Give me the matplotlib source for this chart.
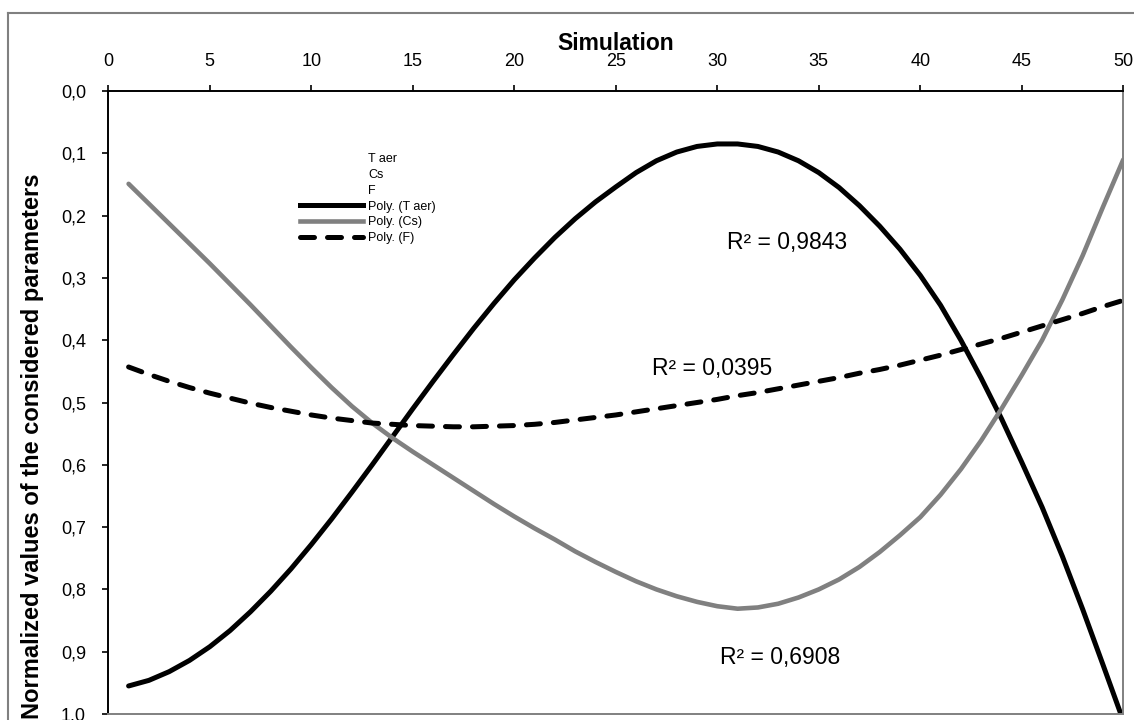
import matplotlib
matplotlib.use('Agg')
import matplotlib.pyplot as plt
from matplotlib.lines import Line2D

plt.rcParams['font.family'] = ['Liberation Sans', 'DejaVu Sans']

sim = list(range(1, 51))

# polynomial trend of T aer
poly_taer = [0.955, 0.946, 0.932, 0.914, 0.892, 0.866, 0.836, 0.803, 0.767, 0.728,
             0.687, 0.644, 0.600, 0.555, 0.510, 0.466, 0.423, 0.381, 0.341, 0.303,
             0.268, 0.235, 0.205, 0.178, 0.154, 0.131, 0.112, 0.098, 0.089, 0.085,
             0.085, 0.089, 0.098, 0.112, 0.131, 0.155, 0.184, 0.217, 0.254, 0.296,
             0.344, 0.400, 0.461, 0.526, 0.596, 0.668, 0.747, 0.832, 0.921, 1.011]
# polynomial trend of Cs
poly_cs = [0.149, 0.181, 0.213, 0.245, 0.277, 0.310, 0.343, 0.377, 0.411, 0.444,
           0.476, 0.506, 0.533, 0.557, 0.579, 0.600, 0.621, 0.642, 0.663, 0.683,
           0.702, 0.720, 0.739, 0.756, 0.772, 0.787, 0.800, 0.811, 0.820, 0.827,
           0.831, 0.829, 0.823, 0.813, 0.800, 0.784, 0.764, 0.740, 0.713, 0.684,
           0.648, 0.607, 0.561, 0.510, 0.456, 0.400, 0.335, 0.264, 0.186, 0.110]
# polynomial trend of F
poly_f = [0.443, 0.455, 0.466, 0.476, 0.485, 0.493, 0.501, 0.508, 0.514, 0.520,
          0.525, 0.529, 0.533, 0.535, 0.537, 0.538, 0.539, 0.539, 0.538, 0.537,
          0.535, 0.532, 0.528, 0.524, 0.520, 0.515, 0.510, 0.505, 0.500, 0.495,
          0.489, 0.484, 0.478, 0.472, 0.466, 0.460, 0.453, 0.447, 0.440, 0.432,
          0.424, 0.415, 0.406, 0.397, 0.387, 0.377, 0.367, 0.357, 0.346, 0.336]

r2_labels = ['R² = 0,9843', 'R² = 0,6908', 'R² = 0,0395']

xticks = list(range(0, 51, 5))
yticks = [i / 10 for i in range(11)]

W, H = 1134, 720
fig = plt.figure(figsize=(W / 100, H / 100), dpi=100)
ax = fig.add_axes([108.3 / W, 1 - 714 / H, 1015 / W, 623 / H])

ax.plot(sim, poly_taer, color='black', lw=3.6, solid_capstyle='round', solid_joinstyle='round')
ax.plot(sim, poly_cs, color='#808080', lw=3.3, solid_capstyle='round', solid_joinstyle='round')
ax.plot(sim, poly_f, color='black', lw=3.6, dashes=(2.8, 2.6), dash_capstyle='round')

ax.set_xlim(0, 50)
ax.set_ylim(1.0, 0.0)
ax.xaxis.tick_top()
ax.xaxis.set_label_position('top')
ax.set_xticks(xticks)
ax.set_yticks(yticks)
ax.set_yticklabels([('%.1f' % v).replace('.', ',') for v in yticks])
ax.tick_params(axis='x', length=4, width=1.2, pad=11.4, labelsize=13)
ax.tick_params(axis='y', length=4, width=1.2, pad=12, labelsize=13)
ax.set_xlabel('Simulation', fontsize=16.5, fontweight='bold', labelpad=2.2)

for s in ['top', 'left']:
    ax.spines[s].set_color('black')
    ax.spines[s].set_linewidth(1.4)
for s in ['right', 'bottom']:
    ax.spines[s].set_color('#808080')
    ax.spines[s].set_linewidth(1.4)

fig.text(33 / W, 1 - 446 / H, 'Normalized values of the considered parameters',
         rotation=90, ha='center', va='center', fontsize=17, fontweight='bold')

ax.text(30.48, 0.243, r2_labels[0], fontsize=16.5, va='center')
ax.text(30.13, 0.909, r2_labels[1], fontsize=16.5, va='center')
ax.text(26.78, 0.445, r2_labels[2], fontsize=16.5, va='center')

handles = [Line2D([], [], linestyle='none'),
           Line2D([], [], linestyle='none'),
           Line2D([], [], linestyle='none'),
           Line2D([], [], color='black', lw=3.6),
           Line2D([], [], color='#808080', lw=3.3),
           Line2D([], [], color='black', lw=3.6, dashes=(2.8, 2.6), dash_capstyle='round')]
labels = ['T aer', 'Cs', 'F', 'Poly. (T aer)', 'Poly. (Cs)', 'Poly. (F)']
fig.legend(handles, labels, loc='upper left', bbox_to_anchor=(300 / W, 1 - 153 / H),
           frameon=False, fontsize=9, handlelength=5.0, handletextpad=0.45,
           labelspacing=0.31, borderpad=0, borderaxespad=0)

# outer chart border (only top and left edges are inside the picture)
fig.add_artist(Line2D([8 / W, 8 / W], [0, 1 - 13 / H], color='#808080', lw=1.5))
fig.add_artist(Line2D([8 / W, 1], [1 - 13 / H, 1 - 13 / H], color='#808080', lw=1.5))

fig.savefig('out.png', dpi=100)
